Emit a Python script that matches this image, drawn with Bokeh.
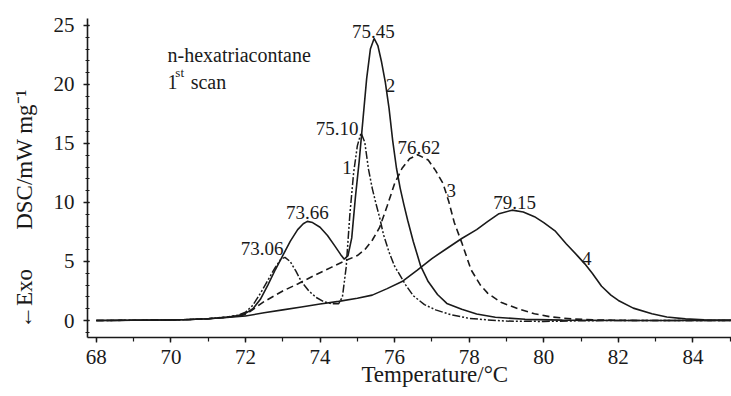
from bokeh.plotting import figure
from bokeh.models import Range1d, SingleIntervalTicker, Label
from bokeh.embed import file_html
from bokeh.resources import INLINE

# ---- data ----
t1 = [68.0, 69.0, 70.0, 70.5, 71.0, 71.5, 71.8, 72.0, 72.2, 72.4, 72.6, 72.8, 72.95, 73.06,
      73.2, 73.35, 73.5, 73.7, 73.9, 74.1, 74.3, 74.5, 74.6, 74.7, 74.8, 74.9, 75.0, 75.1,
      75.2, 75.3, 75.4, 75.5, 75.6, 75.7, 75.85, 76.0, 76.15, 76.3, 76.5, 76.8, 77.1, 77.5,
      78.0, 78.5, 79.0, 80.0, 81.0, 82.0, 85.5]
dsc1 = [0.0, 0.02, 0.05, 0.08, 0.15, 0.3, 0.45, 0.7, 1.3, 2.3, 3.4, 4.5, 5.2, 5.35,
        5.0, 4.2, 3.3, 2.5, 1.95, 1.6, 1.42, 1.42, 2.0, 4.5, 9.0, 12.5, 14.8, 15.9,
        15.1, 12.8, 11.2, 9.9, 8.7, 7.3, 5.8, 4.6, 3.8, 3.0, 2.1, 1.35, 0.9, 0.5,
        0.18, 0.05, -0.05, -0.08, -0.02, 0.0, 0.0]

t2 = [68.0, 69.0, 70.0, 70.5, 71.0, 71.5, 71.8, 72.0, 72.2, 72.4, 72.6, 72.8, 73.0, 73.2,
      73.4, 73.55, 73.66, 73.8, 74.0, 74.2, 74.4, 74.55, 74.65, 74.75, 74.85, 74.95, 75.05,
      75.15, 75.25, 75.35, 75.45, 75.55, 75.65, 75.75, 75.85, 75.95, 76.05, 76.15, 76.25,
      76.35, 76.5, 76.7, 76.9, 77.15, 77.4, 77.8, 78.2, 78.7, 79.5, 80.5, 82.0, 85.5]
dsc2 = [0.0, 0.02, 0.05, 0.08, 0.15, 0.28, 0.42, 0.6, 1.0, 1.8, 3.0, 4.3, 5.5, 6.7,
        7.7, 8.2, 8.4, 8.3, 7.9, 7.2, 6.3, 5.6, 5.2, 5.5, 7.0, 10.5, 13.5,
        17.0, 20.5, 23.0, 23.9, 23.3, 21.9, 20.2, 18.0, 15.2, 12.9, 11.2, 9.8,
        8.5, 6.7, 4.6, 3.3, 2.2, 1.45, 0.95, 0.55, 0.28, 0.1, 0.03, 0.0, 0.0]

t3 = [68.0, 69.0, 70.0, 70.5, 71.0, 71.5, 71.8, 72.0, 72.5, 73.0, 73.4, 73.9, 74.3, 74.7,
      75.0, 75.2, 75.4, 75.6, 75.8, 76.0, 76.2, 76.4, 76.62, 76.9, 77.1, 77.3, 77.45,
      77.6, 77.8, 78.05, 78.3, 78.5, 78.85, 79.3, 79.75, 80.2, 80.8, 81.5, 82.5, 85.5]
dsc3 = [0.0, 0.02, 0.05, 0.08, 0.15, 0.28, 0.38, 0.5, 1.6, 2.5, 3.1, 3.9, 4.5, 5.1,
        5.5, 6.0, 6.8, 7.9, 9.7, 11.6, 12.9, 13.7, 14.05, 13.6, 12.7, 11.6, 10.1,
        8.3, 6.6, 4.3, 3.0, 2.3, 1.55, 1.0, 0.57, 0.3, 0.12, 0.04, 0.0, 0.0]

t4 = [68.0, 69.0, 70.0, 70.5, 71.0, 71.5, 72.0, 72.5, 73.0, 73.5, 74.0, 74.5, 75.0, 75.4,
      75.8, 76.2, 76.6, 77.0, 77.4, 77.8, 78.2, 78.5, 78.8, 79.15, 79.45, 79.75, 80.0,
      80.3, 80.6, 80.9, 81.1, 81.3, 81.55, 81.8, 82.0, 82.4, 82.9, 83.3, 83.8, 84.3, 85.5]
dsc4 = [0.0, 0.02, 0.05, 0.08, 0.15, 0.25, 0.38, 0.65, 0.9, 1.15, 1.4, 1.62, 1.88, 2.15,
        2.7, 3.3, 4.25, 5.25, 6.1, 6.95, 7.7, 8.4, 9.05, 9.35, 9.2, 8.8, 8.3,
        7.6, 6.5, 5.5, 4.8, 4.0, 2.9, 2.15, 1.7, 1.05, 0.57, 0.3, 0.14, 0.06, 0.02]

peak_text = ["73.06", "73.66", "75.10", "75.45", "76.62", "79.15"]
peak_label_x = [72.45, 73.66, 74.46, 75.43, 76.65, 79.22]
peak_label_y = [6.07, 9.12, 16.25, 24.45, 14.69, 10.03]

curve_ids = ["1", "2", "3", "4"]
curve_label_x = [74.72, 75.89, 77.52, 81.15]
curve_label_y = [12.99, 19.9, 11.0, 5.23]

x_title = "\u2003\u2003\u2009Temperature/°C"
y_title = "←Exo\u2003\u2002\u2009DSC/mW mg⁻¹\u2003\u2003\u2002\u2009"

FONT = "Liberation Serif"
INK = "#1a1a1a"

p = figure(width=731, height=396,
           x_range=Range1d(67.764, 85.034), y_range=Range1d(-1.44, 25.59),
           output_backend="svg", toolbar_location=None,
           min_border_left=87, min_border_right=0, min_border_top=18, min_border_bottom=59)

p.xgrid.visible = False
p.ygrid.visible = False
p.outline_line_color = None
p.background_fill_color = "white"
p.border_fill_color = "white"

p.xaxis.ticker = SingleIntervalTicker(interval=2, num_minor_ticks=2)
p.yaxis.ticker = SingleIntervalTicker(interval=5, num_minor_ticks=5)

for ax in (p.xaxis[0], p.yaxis[0]):
    ax.axis_line_width = 1.6
    ax.axis_line_color = INK
    ax.major_tick_line_color = INK
    ax.minor_tick_line_color = INK
    ax.major_tick_line_width = 1.4
    ax.minor_tick_line_width = 1.2
    ax.major_label_text_font = FONT
    ax.major_label_text_font_size = "21px"
    ax.major_label_text_color = INK
    ax.axis_label_text_font = FONT
    ax.axis_label_text_font_size = "23px"
    ax.axis_label_text_font_style = "normal"
    ax.axis_label_text_color = INK

p.xaxis.major_tick_out = 5
p.xaxis.major_tick_in = 0
p.xaxis.minor_tick_out = 4
p.xaxis.minor_tick_in = 0
p.xaxis.major_label_standoff = 7
p.xaxis.axis_label = x_title
p.xaxis.axis_label_standoff = -5

p.yaxis.major_tick_out = 4
p.yaxis.major_tick_in = 2
p.yaxis.minor_tick_out = 2
p.yaxis.minor_tick_in = 2
p.yaxis.major_label_standoff = 9
p.yaxis.axis_label = y_title
p.yaxis.axis_label_standoff = 14

# curves
p.line(t1, dsc1, line_color=INK, line_width=1.5, line_dash="8 2 2 2 2 2")
p.line(t2, dsc2, line_color=INK, line_width=1.6)
p.line(t3, dsc3, line_color=INK, line_width=1.6, line_dash="7 4")
p.line(t4, dsc4, line_color=INK, line_width=1.6)

# peak temperature labels
for x, y, s in zip(peak_label_x, peak_label_y, peak_text):
    p.add_layout(Label(x=x, y=y, text=s, text_align="center", text_baseline="alphabetic",
                       text_font=FONT, text_font_size="19px", text_color=INK))

# curve numbers
for x, y, s in zip(curve_label_x, curve_label_y, curve_ids):
    p.add_layout(Label(x=x, y=y, text=s, text_align="center", text_baseline="alphabetic",
                       text_font=FONT, text_font_size="19px", text_color=INK))

# annotation text
p.add_layout(Label(x=69.91, y=22.46, text="n-hexatriacontane", text_align="left",
                   text_baseline="alphabetic", text_font=FONT, text_font_size="20px", text_color=INK))
p.add_layout(Label(x=69.91, y=20.17, text="1", text_align="left",
                   text_baseline="alphabetic", text_font=FONT, text_font_size="20px", text_color=INK))
p.add_layout(Label(x=70.12, y=21.0, text="st", text_align="left",
                   text_baseline="alphabetic", text_font=FONT, text_font_size="13px", text_color=INK))
p.add_layout(Label(x=70.53, y=20.17, text="scan", text_align="left",
                   text_baseline="alphabetic", text_font=FONT, text_font_size="20px", text_color=INK))

open("out.html", "w").write(file_html(p, INLINE))
